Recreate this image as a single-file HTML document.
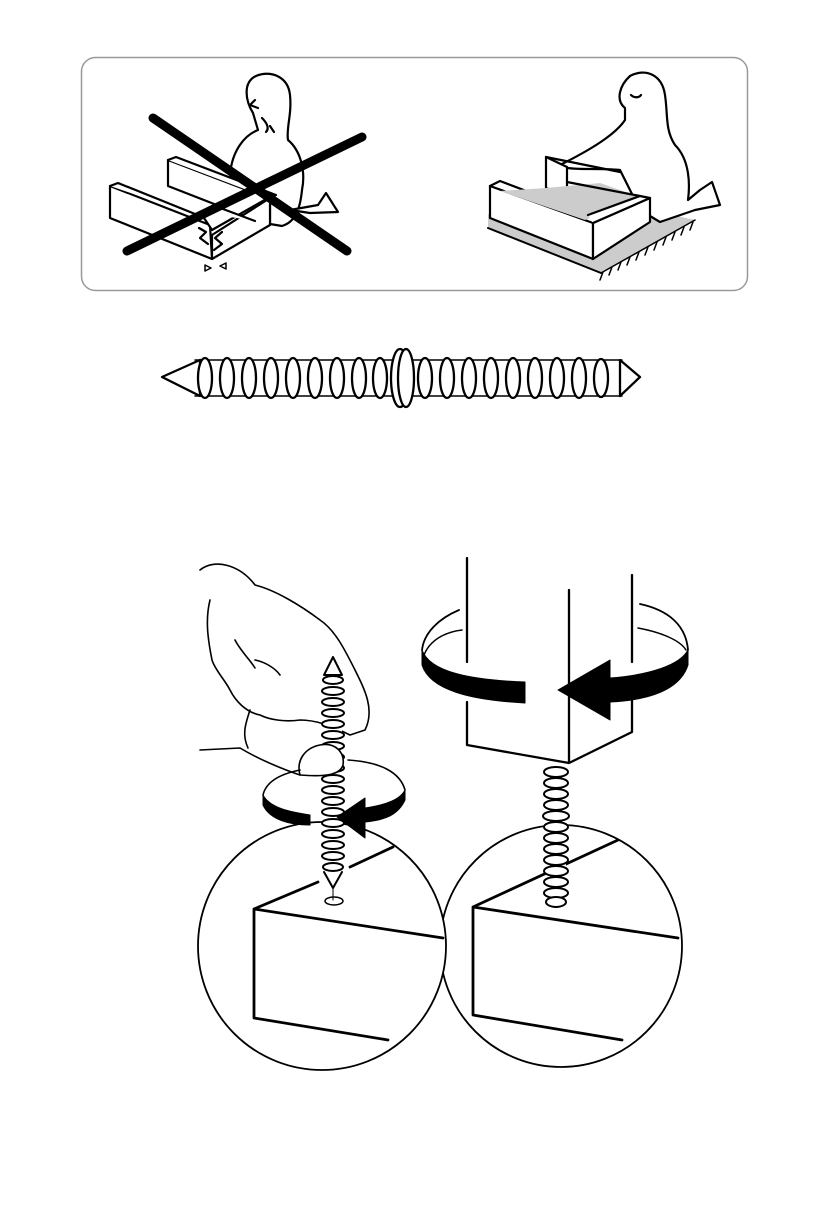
<!DOCTYPE html>
<html><head><meta charset="utf-8"><style>html,body{margin:0;padding:0;background:#fff}svg{display:block}</style></head>
<body>
<svg width="831" height="1209" viewBox="0 0 831 1209" xmlns="http://www.w3.org/2000/svg" fill="none" stroke="#000" stroke-linejoin="round" stroke-linecap="round">
<rect x="81.5" y="57.5" width="666" height="233" rx="14" stroke="#999" stroke-width="1.5"/>

<!-- LEFT SCENE -->
<g stroke-width="2.2" fill="#fff">
<path d="M253,113 C245,100 243,82 256,76 C270,70 288,76 290,95 C292,115 286,128 288,140 C300,150 306,170 302,190 C300,210 295,222 282,226 L270,224 L270,200 L240,190 L230,175 C232,150 245,135 258,130 Z"/>
<path d="M255,100 L250,105 L258,108"/>
<path d="M262,118 C266,122 270,128 266,132 M270,126 L274,132"/>
<path d="M290,210 L318,205 L326,193 L338,212 L310,213 Z"/>
<path d="M168,160 L268,198 L268,225 L168,186 Z"/>
<path d="M168,160 L176,157 L276,195 L268,198"/>
<path d="M110,186 L210,225 L212,259 L110,218 Z"/>
<path d="M110,186 L118,183 L210,220"/>
<path d="M212,235 L270,198 L270,225 L212,259 Z"/>
<path d="M200,212 L250,190 L268,198 L212,230 Z"/>
<path d="M200,212 L215,206 L255,221"/>
<path d="M199,228 L206,232 L200,238 L208,244 M222,232 L215,238 L222,244 L214,250"/>
<path d="M205,265 L211,268 L205,271 Z M220,266 L226,263 L226,269 Z" stroke-width="1.5"/>
</g>
<path d="M153,118 L347,251 M127,251 L362,137" stroke-width="9"/>

<!-- RIGHT SCENE -->
<g stroke-width="2.2">
<path d="M488,228 L601,273 L695,220 L650,210 L593,250 L488,214 Z" fill="#ccc" stroke="none"/>
<path d="M488,228 L601,273" stroke-width="2"/>
<path d="M601,273 L695,220" stroke-width="1.5"/>
<g stroke-width="1.5">
<path d="M603,272 l-3,8 M612,267 l-3,8 M621,262 l-3,8 M630,257 l-3,8 M639,252 l-3,8 M648,247 l-3,8 M657,242 l-3,8 M666,237 l-3,8 M675,232 l-3,8 M684,227 l-3,8 M693,222 l-3,8"/>
</g>
<path d="M625,108 C615,100 620,85 630,76 C645,68 662,74 665,95 C668,115 665,130 675,145 C690,160 690,185 688,200 L700,190 L712,182 L720,205 L695,210 L660,222 L640,210 L620,170 C600,168 580,170 568,168 L560,165 C590,150 615,135 625,120 Z" fill="#fff"/>
<path d="M631,95 C634,98 639,98 641,95"/>
<path d="M546,157 L567,167 L567,196 L546,188 Z" fill="#fff"/>
<path d="M490,186 L593,223 L593,259 L490,218 Z" fill="#fff"/>
<path d="M490,186 L500,181 L600,219 L593,223"/>
<path d="M593,223 L650,198 L650,222 L593,259 Z" fill="#fff"/>
<path d="M500,191 L585,220 L640,197 L600,183 L546,188 Z" fill="#ccc" stroke="none"/>
<path d="M588,215 L640,196 L650,198 L593,223" fill="#fff"/>
<path d="M567,182 L640,196"/>
<path d="M546,157 L620,172"/>
</g>

<!-- HORIZONTAL SCREW -->
<g stroke-width="2.3">
<rect x="195" y="360" width="430" height="36" fill="#fff" stroke="none"/>
<path d="M162,377 L200,360 L200,396 Z" fill="#fff"/>
<path d="M620,360 L640,377 L620,396 Z" fill="#fff"/>
<path d="M195,360 L622,360 M195,396 L622,396" stroke-width="1.5"/>
<g fill="#fff">
<ellipse cx="205" cy="378" rx="7" ry="20"/><ellipse cx="227" cy="378" rx="7" ry="20"/><ellipse cx="249" cy="378" rx="7" ry="20"/><ellipse cx="271" cy="378" rx="7" ry="20"/><ellipse cx="293" cy="378" rx="7" ry="20"/><ellipse cx="315" cy="378" rx="7" ry="20"/><ellipse cx="337" cy="378" rx="7" ry="20"/><ellipse cx="359" cy="378" rx="7" ry="20"/><ellipse cx="380" cy="378" rx="7" ry="20"/>
<ellipse cx="425" cy="378" rx="7" ry="20"/><ellipse cx="447" cy="378" rx="7" ry="20"/><ellipse cx="469" cy="378" rx="7" ry="20"/><ellipse cx="491" cy="378" rx="7" ry="20"/><ellipse cx="513" cy="378" rx="7" ry="20"/><ellipse cx="535" cy="378" rx="7" ry="20"/><ellipse cx="557" cy="378" rx="7" ry="20"/><ellipse cx="579" cy="378" rx="7" ry="20"/><ellipse cx="601" cy="378" rx="7" ry="19"/>
<ellipse cx="400" cy="378" rx="9" ry="29"/><ellipse cx="406" cy="378" rx="8" ry="29"/>
</g>
</g>

<!-- CIRCLES -->
<g stroke-width="1.8" fill="#fff">
<circle cx="561" cy="946" r="121"/>
<circle cx="322" cy="946" r="124"/>
</g>
<!-- blocks -->
<g stroke-width="2.8">
<path d="M254,909 L254,1018 L388,1040 M254,909 L443,938 M254,909 L318,882 M350,867 L393,847"/>
<path d="M473,907 L473,1015 L622,1040 M473,907 L678,938 M473,907 L618,840"/>
</g>
<ellipse cx="334" cy="901" rx="9" ry="4" stroke-width="1.5" fill="#fff"/>

<!-- POST -->
<g stroke-width="2.3">
<path d="M467,558 L467,662 M467,702 L467,745 L569,763 L632,732 L632,700 M632,575 L632,662 M569,590 L569,763"/>
</g>
<path d="M422,650 C424,632 440,618 459,610 M640,604 C668,610 686,625 688,650" stroke-width="1.8"/>
<path d="M424,655 C430,640 445,632 462,630 M638,628 C660,632 680,640 686,650" stroke-width="1.5"/>
<path d="M422,650 L422,665 C430,690 470,700 525,703 L525,682 C470,680 430,672 422,650 Z" fill="#000"/>
<path d="M558,690 L610,660 L610,678 C650,675 680,665 688,650 L688,665 C680,690 650,700 610,702 L610,720 Z" fill="#000"/>

<!-- right screw -->
<g stroke-width="2" fill="#fff">
<rect x="546" y="765" width="20" height="135" stroke="none"/>
<ellipse cx="556" cy="772" rx="12" ry="5"/><ellipse cx="556" cy="783" rx="12" ry="5"/><ellipse cx="556" cy="794" rx="12" ry="5"/><ellipse cx="556" cy="805" rx="12" ry="5"/><ellipse cx="556" cy="816" rx="13" ry="5"/><ellipse cx="556" cy="827" rx="12" ry="5"/><ellipse cx="556" cy="838" rx="12" ry="5"/><ellipse cx="556" cy="849" rx="12" ry="5"/><ellipse cx="556" cy="860" rx="12" ry="5"/><ellipse cx="556" cy="871" rx="12" ry="5"/><ellipse cx="556" cy="882" rx="12" ry="5"/><ellipse cx="556" cy="893" rx="12" ry="5"/><ellipse cx="556" cy="902" rx="10" ry="5"/>
</g>

<!-- HAND -->
<g stroke-width="1.6" fill="#fff">
<path d="M200,570 C215,558 240,565 255,585 C275,590 300,605 320,620 C335,630 345,650 355,670 C365,690 375,710 365,730 L350,735 C330,725 315,720 300,720 C285,722 270,720 260,715 C245,712 235,700 230,690 C225,680 215,670 212,660 C208,640 205,620 210,600"/>
</g>
<g stroke-width="1.6">
<path d="M200,750 L240,748 C260,760 285,770 300,775"/>
<path d="M250,710 C245,725 242,735 248,748"/>
<path d="M235,640 C240,650 250,660 255,668 M255,660 C265,662 275,668 280,675"/>
</g>
<!-- left screw -->
<g stroke-width="2" fill="#fff">
<rect x="324" y="665" width="18" height="210" stroke="none"/>
<path d="M333,657 L342,675 L324,675 Z"/>
<ellipse cx="333" cy="680" rx="10" ry="4"/><ellipse cx="333" cy="691" rx="11" ry="4"/><ellipse cx="333" cy="702" rx="11" ry="4"/><ellipse cx="333" cy="713" rx="11" ry="4"/><ellipse cx="333" cy="724" rx="11" ry="4"/><ellipse cx="333" cy="735" rx="11" ry="4"/><ellipse cx="333" cy="746" rx="11" ry="4"/><ellipse cx="333" cy="757" rx="11" ry="4"/><ellipse cx="333" cy="768" rx="11" ry="4"/><ellipse cx="333" cy="779" rx="11" ry="4"/><ellipse cx="333" cy="790" rx="11" ry="4"/><ellipse cx="333" cy="801" rx="11" ry="4"/><ellipse cx="333" cy="812" rx="11" ry="4"/><ellipse cx="333" cy="823" rx="11" ry="4"/><ellipse cx="333" cy="834" rx="11" ry="4"/><ellipse cx="333" cy="845" rx="11" ry="4"/><ellipse cx="333" cy="856" rx="11" ry="4"/><ellipse cx="333" cy="867" rx="10" ry="4"/>
<path d="M324,872 L333,888 L342,872"/>
</g>
<path d="M333,888 L333,900" stroke-width="1"/>
<!-- thumb -->
<path d="M300,775 C296,760 305,748 320,745 C335,742 345,752 343,765 C340,775 325,777 300,775 Z" fill="#fff" stroke-width="1.6"/>
<!-- left ring -->
<path d="M263,795 C266,782 280,774 300,770 M348,760 C380,762 400,772 405,790" stroke-width="1.6"/>
<path d="M263,795 L263,805 C270,820 290,825 310,825 L310,815 C290,812 270,808 263,795 Z" fill="#000"/>
<path d="M337,817 L365,798 L365,808 C385,805 400,800 405,790 L405,800 C398,815 385,820 365,822 L365,838 Z" fill="#000"/>
</svg>
</body></html>
